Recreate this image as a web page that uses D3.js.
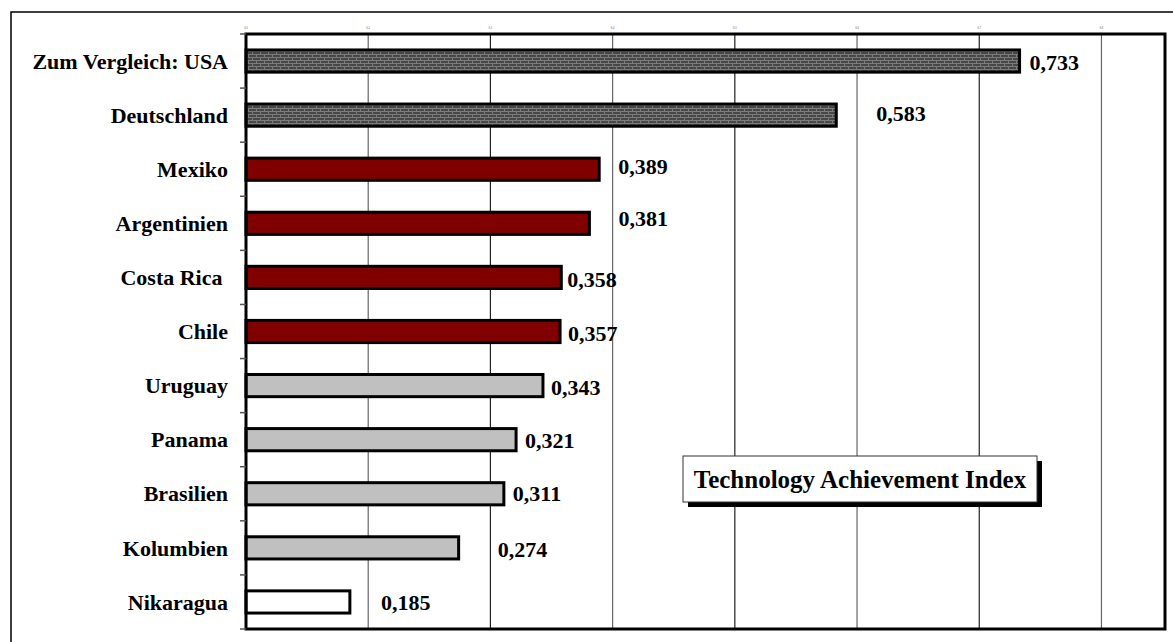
<!DOCTYPE html>
<html>
<head>
<meta charset="utf-8">
<script src="https://cdn.jsdelivr.net/npm/d3@7"></script>
<style>
  body { margin: 0; background: #fff; }
  svg { display: block; }
  text { font-family: "Liberation Serif", "Times New Roman", serif; font-weight: bold; }
</style>
</head>
<body>
<svg id="chart" width="1173" height="642"></svg>
<script>
// ---- data ----
const countries = ["Zum Vergleich: USA", "Deutschland", "Mexiko", "Argentinien", "Costa Rica ",
  "Chile", "Uruguay", "Panama", "Brasilien", "Kolumbien", "Nikaragua"];
const tai = [0.733, 0.583, 0.389, 0.381, 0.358, 0.357, 0.343, 0.321, 0.311, 0.274, 0.185];
const groups = ["ref", "ref", "lead", "lead", "lead", "lead", "pot", "pot", "pot", "pot", "low"];
const xTicks = [0.1, 0.2, 0.3, 0.4, 0.5, 0.6, 0.7, 0.8];
const legendText = "Technology Achievement Index";

// ---- layout ----
const svg = d3.select("#chart");
const plot = { left: 246, top: 34, right: 1165, bottom: 629 };

// label nudges (px) so the numbers sit where the original put them
const labelDx = [10, 40, 19, 29, 6, 8, 8, 9, 9, 39, 31];
const labelDy = [1, -2, -3, -5, 2, 2, 2, 1, 0, 1, 0];

const x = d3.scaleLinear().domain([0.1, 0.852]).range([plot.left, plot.right]);
const y = d3.scaleBand().domain(countries).range([plot.top, plot.bottom])
  .paddingInner(0.59).paddingOuter(0.295);

const fillFor = { ref: "url(#brick)", lead: "#800000", pot: "#c0c0c0", low: "#ffffff" };

// brick pattern for the comparison bars
const defs = svg.append("defs");
const pat = defs.append("pattern")
  .attr("id", "brick").attr("patternUnits", "userSpaceOnUse")
  .attr("width", 8).attr("height", 6);
pat.append("rect").attr("width", 8).attr("height", 6).attr("fill", "#474747");
pat.append("path")
  .attr("d", "M0,0.5H8 M0,3.5H8 M0.5,0V3 M4.5,3V6")
  .attr("stroke", "#7c7c7c").attr("stroke-width", 1).attr("fill", "none");

// outer frame (cut off at right/bottom like the original)
svg.append("path")
  .attr("d", "M11,642 V12 H1173")
  .attr("fill", "none").attr("stroke", "#000").attr("stroke-width", 1.5);

// gridlines
svg.append("g")
  .selectAll("line")
  .data(xTicks.slice(1))
  .join("line")
  .attr("x1", d => x(d)).attr("x2", d => x(d))
  .attr("y1", plot.top).attr("y2", plot.bottom)
  .attr("stroke", (d, i) => i % 2 ? "#222" : "#666")
  .attr("stroke-width", 1.2);

// tiny top tick labels (barely visible in the original)
svg.append("g")
  .selectAll("text")
  .data(xTicks)
  .join("text")
  .attr("x", d => x(d)).attr("y", 29)
  .attr("text-anchor", "middle")
  .attr("font-size", 3)
  .attr("fill", "#999")
  .text(d => d3.format(".1f")(d).replace(".", ","));

// bars
const bars = svg.append("g");
bars.selectAll("rect")
  .data(countries)
  .join("rect")
  .attr("x", x(0.1))
  .attr("y", d => y(d))
  .attr("width", (d, i) => x(tai[i]) - x(0.1))
  .attr("height", y.bandwidth())
  .attr("fill", (d, i) => fillFor[groups[i]])
  .attr("stroke", "#000")
  .attr("stroke-width", 3);

// plot border
svg.append("rect")
  .attr("x", plot.left).attr("y", plot.top)
  .attr("width", plot.right - plot.left).attr("height", plot.bottom - plot.top)
  .attr("fill", "none").attr("stroke", "#000").attr("stroke-width", 3);

// category ticks between bands
const gap = (y.step() - y.bandwidth()) / 2;
const bounds = countries.map(c => y(c) - gap).concat([plot.bottom]);
svg.append("g")
  .selectAll("line")
  .data(bounds)
  .join("line")
  .attr("x1", plot.left - 6).attr("x2", plot.left)
  .attr("y1", d => d).attr("y2", d => d)
  .attr("stroke", "#555").attr("stroke-width", 1.5);

// category labels
svg.append("g")
  .selectAll("text")
  .data(countries)
  .join("text")
  .attr("x", 228)
  .attr("y", d => y(d) + y.bandwidth() / 2)
  .attr("dy", "0.35em")
  .attr("text-anchor", "end")
  .attr("font-size", 22)
  .attr("xml:space", "preserve")
  .style("white-space", "pre")
  .text(d => d);

// value labels
svg.append("g")
  .selectAll("text")
  .data(tai)
  .join("text")
  .attr("x", (d, i) => x(d) + labelDx[i])
  .attr("y", (d, i) => y(countries[i]) + y.bandwidth() / 2 + labelDy[i])
  .attr("dy", "0.35em")
  .attr("font-size", 22)
  .text(d => d3.format(".3f")(d).replace(".", ","));

// legend box with drop shadow
const lg = svg.append("g").attr("transform", "translate(683,456)");
lg.append("rect").attr("x", 5).attr("y", 5).attr("width", 354).attr("height", 46).attr("fill", "#000");
lg.append("rect").attr("width", 354).attr("height", 46)
  .attr("fill", "#fff").attr("stroke", "#333").attr("stroke-width", 1);
lg.append("text")
  .attr("x", 177).attr("y", 32)
  .attr("text-anchor", "middle")
  .attr("font-size", 25)
  .text(legendText);
</script>
</body>
</html>
